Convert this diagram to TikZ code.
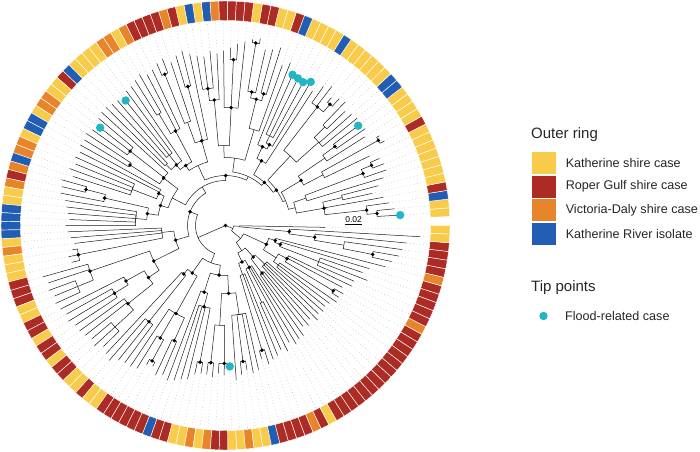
\documentclass[tikz,border=0pt]{standalone}
\usepackage{fontspec}
\setmainfont{Liberation Sans}
\usetikzlibrary{positioning}
\definecolor{ringY}{RGB}{248,204,74}
\definecolor{ringR}{RGB}{172,43,36}
\definecolor{ringO}{RGB}{232,133,42}
\definecolor{ringB}{RGB}{33,93,178}
\definecolor{floodcyan}{RGB}{32,182,194}
\newcommand{\tipang}[1]{1.18+2.236*#1}
\begin{document}
\begin{tikzpicture}[
    x=1pt, y=1pt,
    branch/.style={line width=0.5pt, black!90},
    guide/.style={line width=0.5pt, black!25, dash pattern=on 0.7pt off 2.6pt},
    ring/.style={draw=white, line width=0.45pt},
    support/.style={circle, fill=black, inner sep=0pt, minimum size=3.8pt},
    flood/.style={circle, fill=floodcyan, inner sep=0pt, minimum size=8.4pt},
    key/.style={minimum width=25pt, minimum height=23pt, inner sep=0pt, draw=white, line width=0.6pt},
    lab/.style={inner sep=0pt, anchor=west, text=black!85, font=\fontsize{12.6}{15}\selectfont},
    legtitle/.style={inner sep=0pt, anchor=west, text=black!85, font=\fontsize{15}{18}\selectfont}
]
\useasboundingbox (0,0) rectangle (700,451);

\begin{scope}[shift={(225.5,225.5)}]
\foreach \col [count=\tk] in {Y,Y,B,R,Y,Y,Y,Y,Y,Y, Y,R,Y,Y,Y,Y,B,B,Y,Y, Y,Y,Y,Y,B,Y,Y,Y,Y,B,
    R,Y,Y,R,R,Y,R,R,R,R, O,B,Y,B,Y,R,O,R,R,R, R,O,Y,O,O,Y,Y,Y,Y,B, R,Y,Y,O,O,Y,B,B,Y,O,
    O,B,O,R,O,Y,Y,B,B,B, B,Y,O,Y,Y,Y,R,R,R,Y, Y,R,R,Y,R,R,Y,R,R,Y, Y,R,Y,Y,R,R,R,R,R,R,
    B,R,R,Y,Y,O,Y,O,R,R, Y,Y,O,Y,Y,B,R,R,R,R, O,R,Y,R,R,R,R,R,R,R, R,R,R,R,R,R,R,O,R,R,
    R,R,R,O,R,R,R,R,Y,Y} {
  \pgfmathsetmacro\sa{\tipang{\tk}-1.118}
  \pgfmathsetmacro\sb{\tipang{\tk}+1.118}
  \filldraw[ring, fill=ring\col] (\sa:205) arc[start angle=\sa, end angle=\sb, radius=205]
    -- (\sb:224.5) arc[start angle=\sb, end angle=\sa, radius=224.5] -- cycle;
}

\foreach \tk/\pa/\pr/\tr in {1/1.5/152/175, 2/1.5/152/170, 3/2.25/142/165, 4/3.92/100/160,
    5/5.5/120/150, 6/5.5/120/158, 7/7.88/85/165, 8/8.75/147/170, 9/9.5/158/170, 10/9.5/158/168,
    11/11.75/110/160, 12/12.5/175/180, 13/12.5/175/178, 14/14.75/120/165, 15/15.5/135/170,
    16/15.5/135/166, 17/18.17/125/170, 18/18.17/125/168, 19/19.5/140/165, 20/19.5/140/172,
    21/21.5/160/170, 22/21.5/160/166, 23/22.83/150/175, 24/22.83/150/170, 25/26.75/74/160,
    26/27/92/167, 27/28/100/163, 28/28/100/164, 29/28/100/165, 30/28.5/87/175,
    31/32.3/100/170, 32/32.5/137/186, 33/32.5/137/182, 34/34.75/136/180, 35/35.5/185/190,
    36/35.5/185/188, 37/38.5/118/185, 38/38.5/166/182, 39/38.5/166/178, 40/38.5/118/175,
    41/42/126/172, 42/43/138/175, 43/43/138/170, 44/43/138/172, 45/46.75/88/175,
    46/46.5/144/180, 47/46.5/144/177, 48/48.75/110/172, 49/49.5/163/178, 50/49.5/163/176,
    51/52.2/107/172, 52/52.2/107/170, 53/53.5/130/174, 54/53.5/130/171, 55/57.2/78/168,
    56/57/90/167, 57/57/90/160, 58/57/90/165, 59/59.5/85/166, 60/59.5/85/168,
    61/63.2/78/168, 62/63/121/166, 63/63/121/159, 64/63/121/164, 65/65.5/113/167,
    66/65.5/113/165, 67/68.5/74/166, 68/68.5/74/163, 69/70.5/100/165, 70/70.5/100/162,
    71/70.5/100/166, 72/70.5/100/160, 73/73.5/144/170, 74/73.5/144/168, 75/74.25/124/168,
    76/78/90/162, 77/78/90/160, 78/78/90/158, 79/78/90/156, 80/78/90/160,
    81/82.75/64/158, 82/82.75/64/155, 83/82.75/64/152, 84/85/150/155, 85/85/150/160,
    86/85/150/158, 87/88.3/143/190, 88/88.3/143/186, 89/90/160/188, 90/90/160/185,
    91/90/160/187, 92/93/114/185, 93/94/130/182, 94/94/130/184, 95/94/130/180,
    96/97.3/125/180, 97/97.3/125/178, 98/99/150/175, 99/99/150/178, 100/99/150/172,
    101/102/64/175, 102/103/123/178, 103/103/123/172, 104/103/123/170, 105/107.1/101/170,
    106/106.75/130/168, 107/107.5/154/160, 108/107.5/154/158, 109/109.5/126/165, 110/109.5/126/162,
    111/112.3/70/165, 112/113.6/84/163, 113/113.6/84/160, 114/113.6/84/158, 115/115.5/139/152,
    116/115.5/139/150, 117/117.5/138/150, 118/117.5/138/152, 119/120/138/148, 120/120/138/150,
    121/120/138/141, 122/124.1/90/155, 123/123.5/137/150, 124/123.5/137/146, 125/124.1/90/150,
    126/124.1/90/148, 127/127.5/130/138, 128/127.5/130/145, 129/128.8/52/142, 130/128.8/52/140,
    131/131.5/85/136, 132/131.5/85/140, 133/133.4/48/133, 134/133.4/48/138, 135/133.4/48/135,
    136/137/60/135, 137/137/60/127, 138/137/60/130, 139/140.5/55/126, 140/140.5/55/132,
    141/140.5/55/128, 142/140.5/55/130, 143/144/66/128, 144/144/66/130, 145/144/66/135,
    146/146.5/126/134, 147/146.5/126/136, 148/147.8/70/132, 149/147.8/70/140, 150/151/100/140,
    151/151/100/152, 152/151/100/145, 153/152/58/150, 154/153/52/165, 155/155.5/150/170,
    156/155.5/150/176, 157/156.25/120/178, 158/157.1/90/182, 159/158.06/64/195, 160/159.03/14/100} {
  \draw[branch] ({\tipang{\pa}}:\pr) arc[start angle={\tipang{\pa}}, end angle={\tipang{\tk}}, radius=\pr]
    -- ({\tipang{\tk}}:\tr) coordinate (tip\tk);
  \draw[guide] (tip\tk) -- ({\tipang{\tk}}:204);
}

\foreach \pa/\pr/\ka/\kr in {2.25/142/1.5/152, 3.92/100/2.25/142, 3.92/100/5.5/120, 8.75/147/9.5/158,
    7.88/85/8.75/147, 5.9/72/3.92/100, 5.9/72/7.88/85,
    11.75/110/12.5/175, 14.75/120/15.5/135, 13.25/88/11.75/110, 13.25/88/14.75/120,
    18.17/125/19.5/140, 22.83/150/21.5/160, 20.5/95/18.17/125, 20.5/95/22.83/150,
    27/92/28/100, 28.5/87/27/92, 26.75/74/28.5/87,
    34.75/136/35.5/185, 33.6/130/32.5/137, 33.6/130/34.75/136, 32.3/100/33.6/130, 38.5/118/38.5/166,
    42/126/43/138, 40.25/80/38.5/118, 40.25/80/42/126, 36.3/68/32.3/100, 36.3/68/40.25/80,
    48.75/110/49.5/163, 46.75/88/46.5/144, 46.75/88/48.75/110, 52.2/107/53.5/130, 57.2/78/57/90,
    57.2/78/59.5/85, 54.7/72/52.2/107, 54.7/72/57.2/78, 50.7/66/46.75/88, 50.7/66/54.7/72,
    63.2/78/63/121, 63.2/78/65.5/113, 68.5/74/70.5/100, 74.25/124/73.5/144, 76.1/79/74.25/124,
    76.1/79/78/90, 72.3/68/68.5/74, 72.3/68/76.1/79, 67.75/60/63.2/78, 67.75/60/72.3/68,
    82.75/64/85/150, 88.3/143/90/160, 93/114/94/130, 97.3/125/99/150, 95.2/93/93/114,
    95.2/93/97.3/125, 91.75/80/88.3/143, 91.75/80/95.2/93, 87.25/52/82.75/64, 87.25/52/91.75/80,
    102/64/103/123, 106.75/130/107.5/154, 107.1/101/106.75/130, 107.1/101/109.5/126, 104.55/58/102/64,
    104.55/58/107.1/101, 113.6/84/115.5/139, 112.3/70/113.6/84, 118.75/100/117.5/138, 118.75/100/120/138,
    124.1/90/123.5/137, 121.4/68/118.75/100, 121.4/68/124.1/90, 116.9/50/112.3/70, 116.9/50/121.4/68,
    110.7/40/104.55/58, 110.7/40/116.9/50,
    9.6/65/13.25/88, 9.6/65/5.9/72, 15.05/62/20.5/95, 15.05/62/9.6/65, 20.9/58/26.75/74,
    20.9/58/15.05/62, 28.6/54/36.3/68, 28.6/54/20.9/58, 39.65/50/50.7/66, 39.65/50/28.6/54,
    53.7/45/67.75/60, 53.7/45/39.65/50, 70.5/38/87.25/52, 70.5/38/53.7/45, 90.6/30/110.7/40,
    90.6/30/70.5/38,
    150.6/8/159.03/14, 150.6/8/142.2/20, 159.03/14/158.06/64, 158.06/64/157.1/90, 157.1/90/156.25/120,
    156.25/120/155.5/150, 142.2/20/149.45/45, 142.2/20/134.9/30, 149.45/45/153/52, 149.45/45/145.9/60,
    153/52/152/58, 152/58/151/100, 145.9/60/147.8/70, 145.9/60/144/66, 147.8/70/146.5/126,
    134.9/30/138.75/42, 134.9/30/131.1/40, 138.75/42/140.5/55, 138.75/42/137/60, 131.1/40/133.4/48,
    131.1/40/128.8/52, 133.4/48/131.5/85, 128.8/52/127.5/130} {
  \draw[branch] ({\tipang{\pa}}:\pr) arc[start angle={\tipang{\pa}}, end angle={\tipang{\ka}}, radius=\pr]
    -- ({\tipang{\ka}}:\kr);
}

\node[support] (root) at (0,0) {};
\draw[branch] (root.center) -- ({\tipang{150.6}}:8);
\draw[branch] (root.center) -- ({\tipang{90.6}}:30);

\foreach \na/\nr [count=\ni] in {1.5/152, 2.25/142, 3.92/100, 9.5/158, 8.75/147,
    13.25/88, 12.5/175, 15.5/135, 21.5/160, 22.83/150, 26.75/74, 28.5/87, 27/92,
    33.6/130, 32.5/137, 34.75/136, 35.5/185, 38.5/118, 38.5/166, 42/126, 43/138,
    46.75/88, 46.5/144, 49.5/163, 52.2/107, 57.2/78, 54.7/72,
    63.2/78, 63/121, 65.5/113, 72.3/68, 68.5/74, 76.1/79, 74.25/124, 73.5/144,
    87.25/52, 91.75/80, 85/150, 88.3/143, 95.2/93, 93/114, 97.3/125, 94/130,
    104.55/58, 116.9/50, 102/64, 107.1/101, 103/123, 106.75/130, 109.5/126, 107.5/154,
    112.3/70, 121.4/68, 113.6/84, 115.5/139, 117.5/138, 120/138, 123.5/137,
    15.05/62, 20.9/58, 39.65/50, 70.5/38,
    158.06/64, 157.1/90, 155.5/150, 149.45/45, 153/52, 152/58, 147.8/70, 146.5/126,
    138.75/42, 137/60, 131.1/40, 133.4/48, 127.5/130} {
  \node[support] (dot\ni) at ({\tipang{\na}}:\nr) {};
}

\foreach \tk in {1,16,26,27,28,29,57,63,121} {
  \node[flood] (flood\tk) at (tip\tk) {};
}

\coordinate (sbL) at (119.5,1.2);
\coordinate (sbR) at (136.8,1.2);
\draw[line width=0.9pt] (sbL) -- (sbR) node[midway, above=1.2pt, inner sep=0pt, font=\fontsize{8.5}{10}\selectfont] (sbtext) {0.02};
\end{scope}

\node[legtitle] (ringtitle) at (531,316) {Outer ring};
\node[key, fill=ringY, anchor=north west] (keyY) at (531,300) {};
\node[key, fill=ringR, below=0pt of keyY] (keyR) {};
\node[key, fill=ringO, below=0pt of keyR] (keyO) {};
\node[key, fill=ringB, below=0pt of keyO] (keyB) {};
\node[lab, right=9pt of keyY] (labY) {Katherine shire case};
\node[lab, right=9pt of keyR] (labR) {Roper Gulf shire case};
\node[lab, right=9pt of keyO] (labO) {Victoria-Daly shire case};
\node[lab, right=9pt of keyB] (labB) {Katherine River isolate};

\node[legtitle] (tiptitle) at (531,163) {Tip points};
\node[flood] (keyF) at (543.5,135) {};
\node[lab] (labF) at (565,135) {Flood-related case};
\end{tikzpicture}
\end{document}
